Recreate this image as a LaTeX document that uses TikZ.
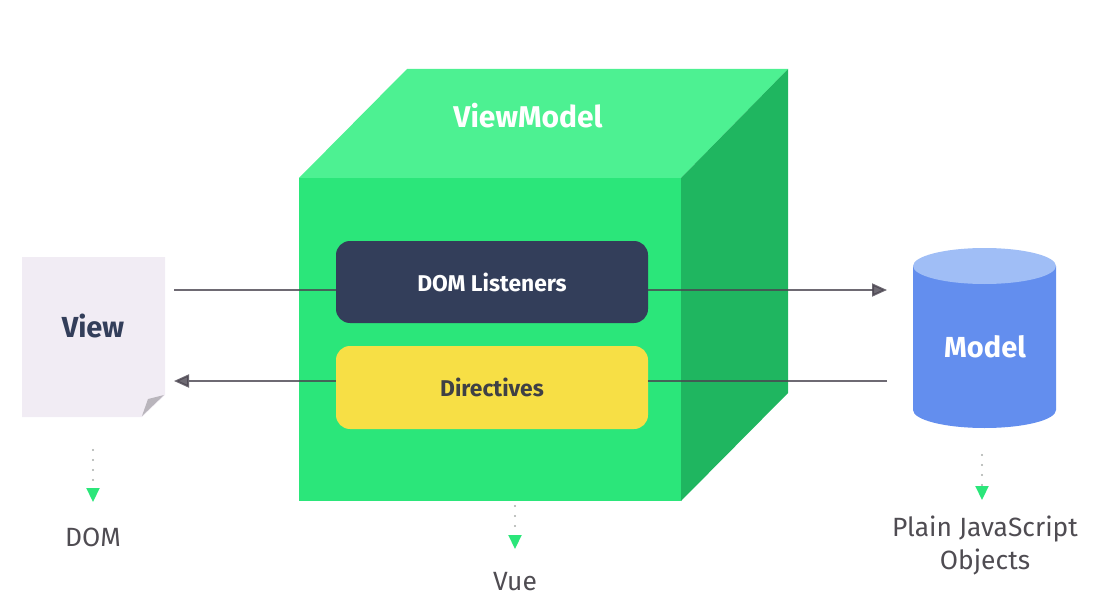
\documentclass[tikz,border=0pt]{standalone}
\usepackage{fontspec}
\setmainfont{Fira Sans}
\usepackage{tikz}
\usetikzlibrary{arrows.meta,positioning,shapes.geometric}

\definecolor{cubefront}{HTML}{2BE67A}
\definecolor{cubetop}{HTML}{4DF192}
\definecolor{cubeside}{HTML}{1FB660}
\definecolor{listenerblue}{HTML}{333E5A}
\definecolor{directiveyellow}{HTML}{F7DF45}
\definecolor{directivetext}{HTML}{3F4045}
\definecolor{viewpaper}{HTML}{F1ECF4}
\definecolor{viewfold}{HTML}{B9B5BC}
\definecolor{modelbody}{HTML}{638EEE}
\definecolor{modeltop}{HTML}{A0BEF6}
\definecolor{linegrey}{HTML}{4A4550}
\definecolor{dotgrey}{HTML}{A9ADAB}
\definecolor{captiongrey}{HTML}{4F4C52}

\tikzset{
    innerbox/.style={rounded corners=7pt, minimum width=156pt, inner sep=0pt, font=\bfseries\fontsize{11.4}{13}\selectfont},
    caption/.style={text=captiongrey, font=\fontsize{13.2}{16.5}\selectfont, align=center},
    flow/.style={draw=linegrey, opacity=0.8, line width=1pt, -{Triangle[length=7.5pt,width=6.5pt]}},
    flowplain/.style={draw=linegrey, opacity=0.8, line width=1pt},
    dotdown/.style={draw=dotgrey, line width=1.1pt, line cap=round, dash pattern=on 0pt off 5pt,
        -{Triangle[length=7pt,width=6.5pt,color=cubefront]}},
}

\begin{document}
\begin{tikzpicture}[x=0.5pt, y=-0.5pt]
    \useasboundingbox (0,0) rectangle (1104,599);

    % Cube faces
    \fill[cubetop] (299,178) -- (407,69) -- (788,69) -- (681,178) -- cycle;
    \fill[cubeside] (681,178) -- (788,69) -- (788,393) -- (681,501) -- cycle;
    \fill[cubefront] (299,178) rectangle (681,501);
    \node[text=white, font=\bfseries\fontsize{15}{17}\selectfont] (viewmodel) at (528,116) {ViewModel};

    % Boxes inside the cube
    \node[innerbox, fill=listenerblue, text=white, minimum height=41pt] (listeners) at (492,282) {DOM Listeners};
    \node[innerbox, fill=directiveyellow, text=directivetext, minimum height=41.5pt] (directives) at (492,387.5) {Directives};

    % Paper sheet
    \fill[viewpaper] (22,257) -- (165,257) -- (165,395) -- (142,417) -- (22,417) -- cycle;
    \fill[viewfold] (142,416) -- (164,395) -- (148,399) -- cycle;
    \node[text=listenerblue, font=\bfseries\fontsize{14.5}{16}\selectfont] (view) at (93,326) {View};

    % Database
    \fill[modelbody] (913,266) -- (913,410) arc[start angle=180, end angle=0, x radius=71.5, y radius=18] -- (1056,266) -- cycle;
    \fill[modeltop] (984.5,266) ellipse (71.5 and 18);
    \node[text=white, font=\bfseries\fontsize{14.5}{16}\selectfont] (model) at (985,347) {Model};

    % Data flow
    \coordinate (viewout) at (174,290);
    \coordinate (modelin) at (887,290);
    \coordinate (modelout) at (887,381);
    \coordinate (viewin) at (174,381);
    \draw[flowplain] (viewout) -- (listeners.west |- viewout);
    \draw[flow] (listeners.east |- modelin) -- (modelin);
    \draw[flowplain] (modelout) -- (directives.east |- modelout);
    \draw[flow] (directives.west |- viewin) -- (viewin);

    % Captions
    \node[caption] (dom) at (93,537) {DOM};
    \node[caption] (vue) at (515,582) {Vue};
    \node[caption] (plain) at (985,545.5) {Plain JavaScript\\Objects};

    \coordinate (domfrom) at (93,450);
    \coordinate (domto) at (93,502);
    \coordinate (vuefrom) at (515,506);
    \coordinate (vueto) at (515,549);
    \coordinate (plainfrom) at (982,455);
    \coordinate (plainto) at (982,500);
    \draw[dotdown] (domfrom) -- (domto);
    \draw[dotdown] (vuefrom) -- (vueto);
    \draw[dotdown] (plainfrom) -- (plainto);
\end{tikzpicture}
\end{document}
